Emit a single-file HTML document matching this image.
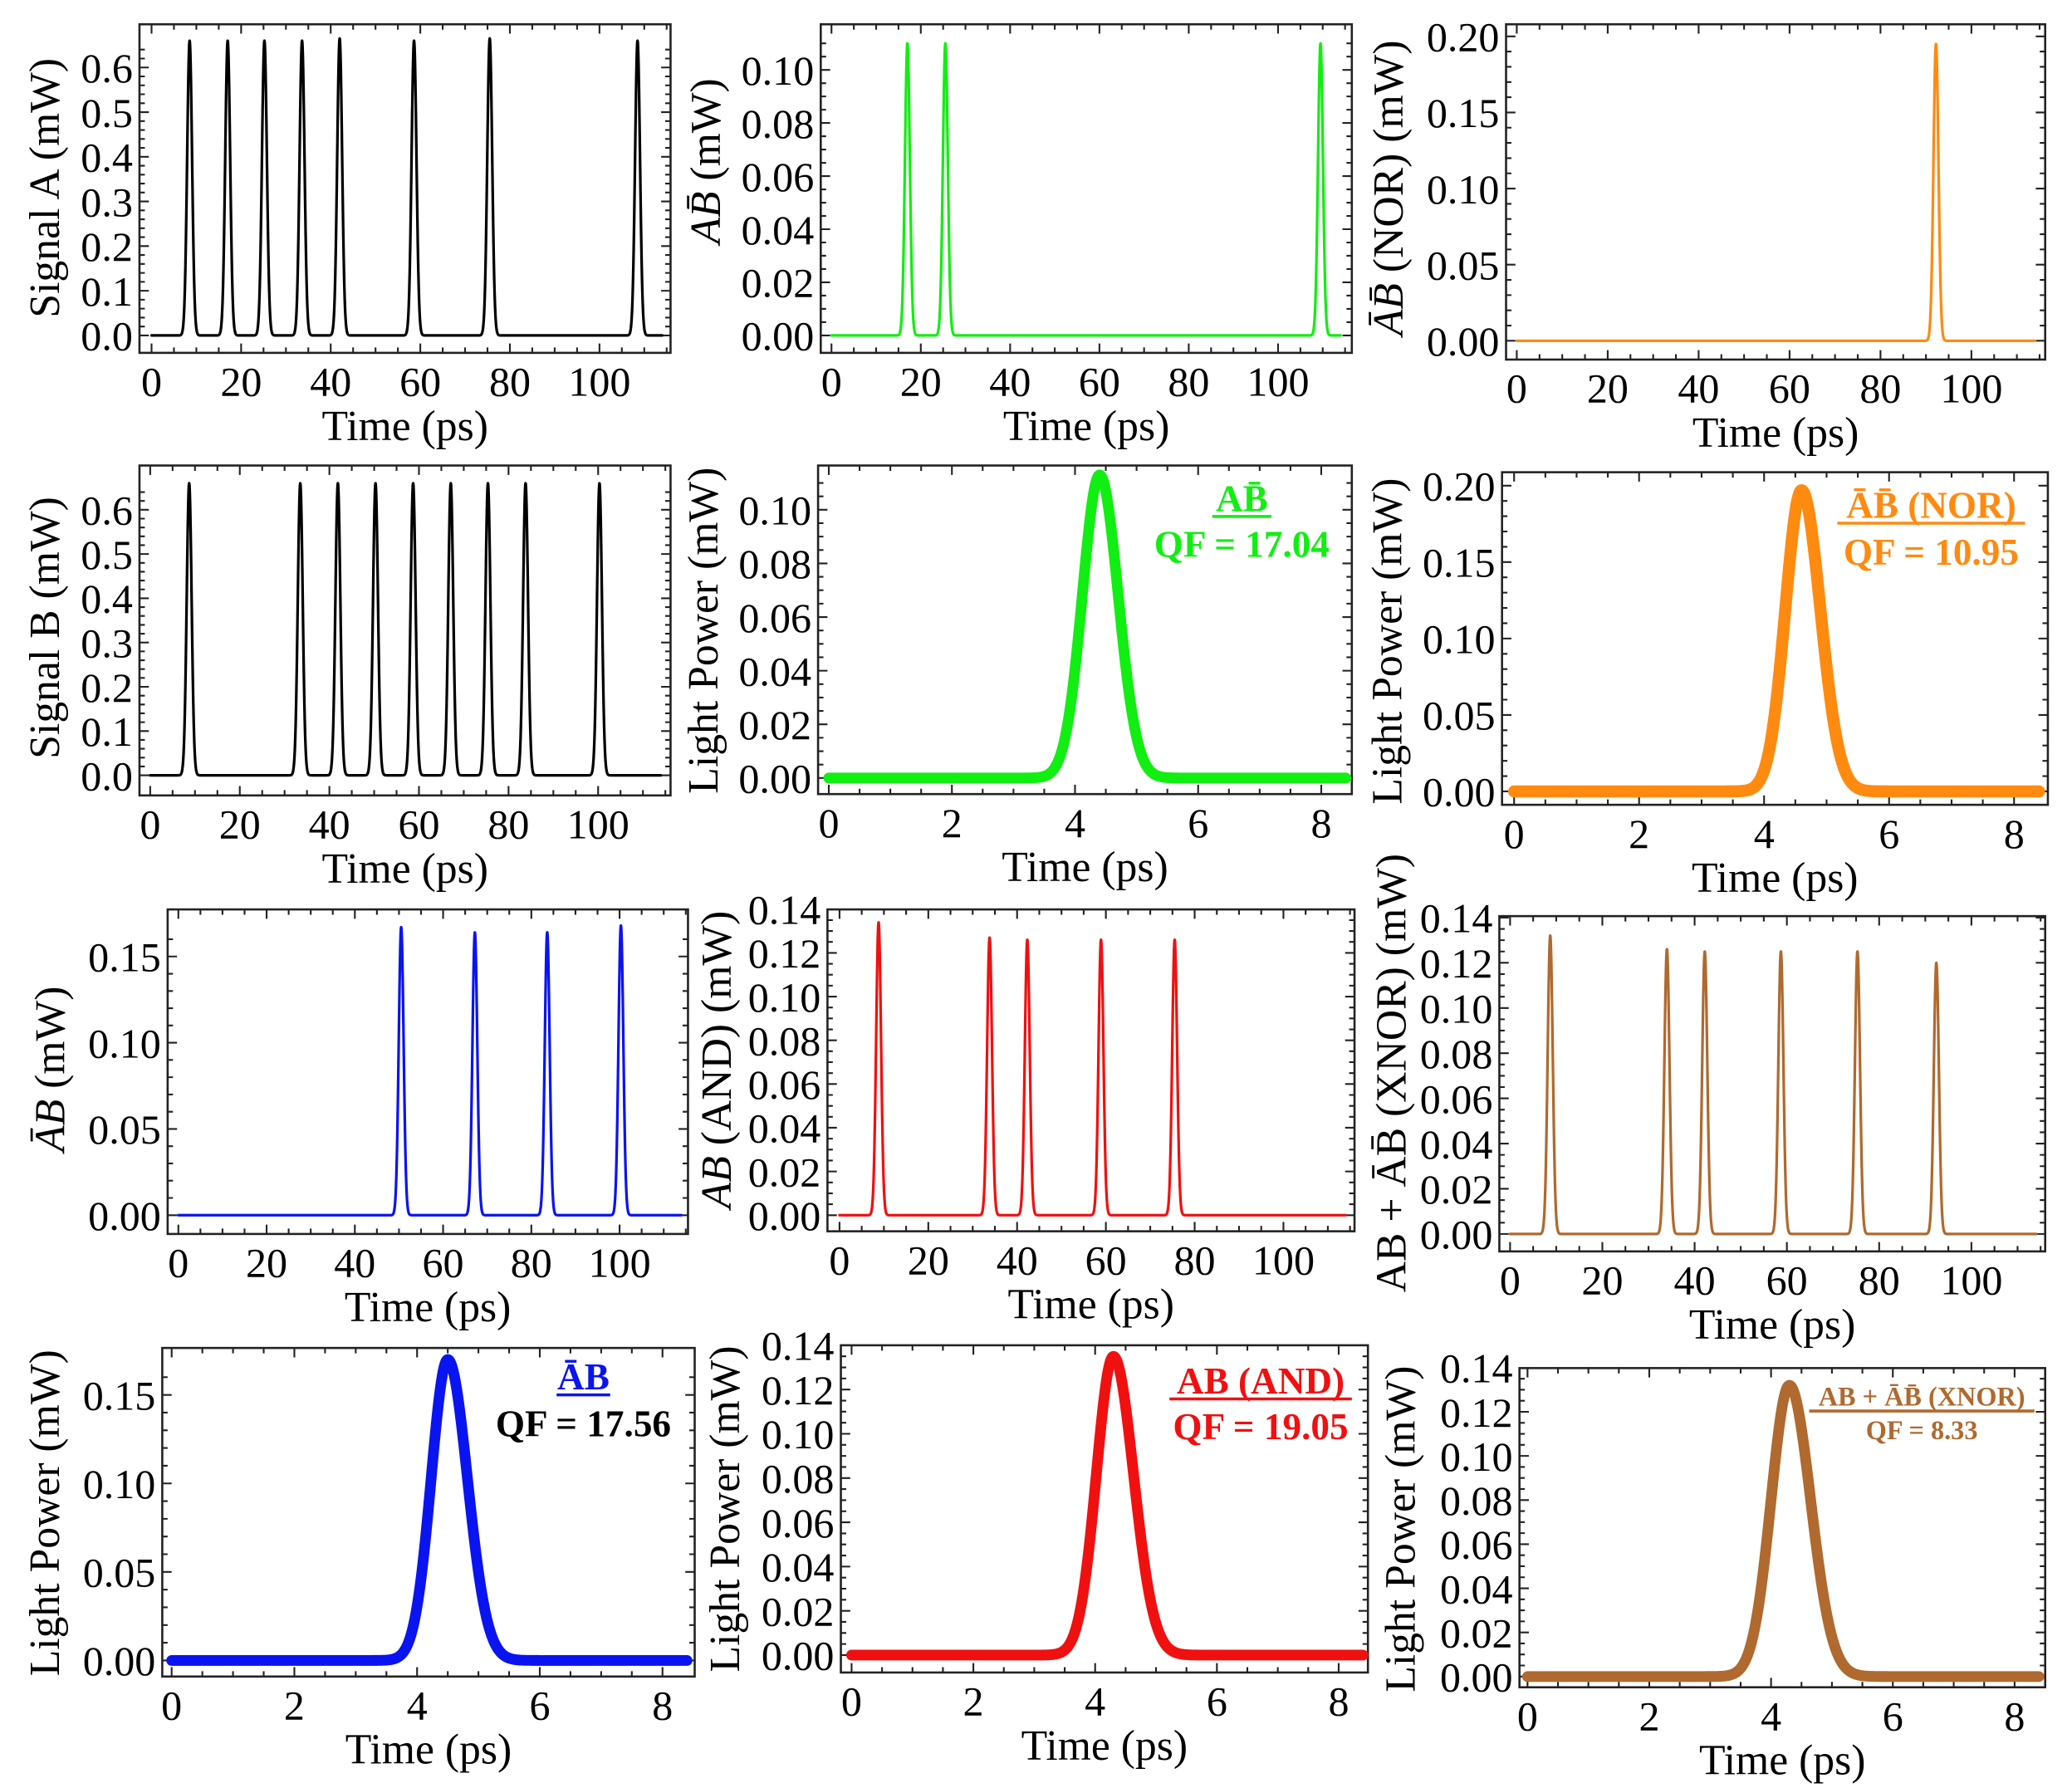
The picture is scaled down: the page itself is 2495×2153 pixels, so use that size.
<!DOCTYPE html>
<html><head><meta charset="utf-8"><style>
html,body{margin:0;padding:0;background:#fff;}
svg{display:block;}
text{font-family:"Liberation Serif",serif;}
</style></head><body>
<svg id="s" width="2495" height="2153" viewBox="0 0 1545 1333" xmlns="http://www.w3.org/2000/svg">
<rect width="1545" height="1333" fill="#fff"/>
</svg>
<script>
const S=document.getElementById('s');const NS='http://www.w3.org/2000/svg';
function el(n,a,t){const e=document.createElementNS(NS,n);for(const k in a)e.setAttribute(k,a[k]);if(t!==undefined)e.textContent=t;S.appendChild(e);return e;}
function panel(o){
 const X=t=>o.xa+t*o.xs, Y=v=>o.ya-v*o.ys;
 el('rect',{x:o.fx0,y:o.fy0,width:o.fx1-o.fx0,height:o.fy1-o.fy0,fill:'none',stroke:'#222','stroke-width':1.6});
 let d='';
 for(let t=0;t<=o.xmaxT+1e-9;t+=o.xminor){const x=X(t);if(x<o.fx0||x>o.fx1)continue;
  const maj=Math.abs(t/o.xmajor-Math.round(t/o.xmajor))<1e-6;const L=maj?7:4;
  d+=`M${x} ${o.fy1}v${-L}M${x} ${o.fy0}v${L}`;}
 for(let v=0;v<=o.ymaxT+1e-9;v+=o.yminor){const y=Y(v);if(y<o.fy0||y>o.fy1)continue;
  const maj=Math.abs(v/o.ymajor-Math.round(v/o.ymajor))<1e-6;const L=maj?7:4;
  d+=`M${o.fx0} ${y}h${L}M${o.fx1} ${y}h${-L}`;}
 el('path',{d:d,stroke:'#222','stroke-width':1.3,fill:'none'});
 for(let t=0;t<=o.xmaxT+1e-9;t+=o.xmajor){el('text',{x:X(t),y:o.fy1+32,'font-size':31,'text-anchor':'middle'},String(Math.round(t)));}
 for(let v=0;v<=o.ymaxT+1e-9;v+=o.ymajor){el('text',{x:o.fx0-5,y:Y(v)+11,'font-size':31,'text-anchor':'end'},v.toFixed(o.yd));}
 el('text',{x:(o.fx0+o.fx1)/2,y:o.fy1+65,'font-size':32,'text-anchor':'middle'},'Time (ps)');
 const yl=el('text',{x:0,y:0,'font-size':32,'text-anchor':'middle',transform:`translate(${o.ylx},${o.yly}) rotate(-90)`});
 yl.innerHTML=o.ylab;
 let p='';const N=o.n||1500;
 for(let i=0;i<=N;i++){const t=o.t0+(o.t1-o.t0)*i/N;let v=0;for(const [c,h] of o.pulses){const s=t<c?o.sl:o.sr;v+=h*Math.exp(-((t-c)*(t-c))/(2*s*s));}
  p+=(i?'L':'M')+X(t).toFixed(2)+' '+Y(v).toFixed(2);}
 el('path',{d:p,fill:'none',stroke:o.col,'stroke-width':o.lw,'stroke-linejoin':'round','stroke-linecap':'round'});
 if(o.lab){for(const l of o.lab){const e=el('text',{x:l[0],y:l[1],'font-size':l[2],'font-weight':'bold','text-anchor':'middle',fill:l[4]||o.col});e.innerHTML=l[3];
   if(l[5]){el('line',{x1:l[0]-l[5],x2:l[0]+l[5],y1:l[1]+4,y2:l[1]+4,stroke:l[4]||o.col,'stroke-width':2.2});}}}
}
const G='#11ee11',O='#ff8a10',B='#0a14f0',R='#f01010',BR='#b0692e',K='#000';
const ob=c=>`${c}\u0304`;
const pulseP={t0:0,t1:114,sl:0.55,sr:0.55,lw:2,xmajor:20,xminor:5,xmaxT:115,n:3000};
const qfP={t0:0,t1:8.4,lw:8,xmajor:2,xminor:0.5,xmaxT:8.4,n:600};
panel(Object.assign({},pulseP,{fx0:104,fx1:500,fy0:18,fy1:263,xa:113,xs:3.34,ya:250,ys:333,ymajor:0.1,yminor:0.02,ymaxT:0.65,yd:1,col:K,
 pulses:[[8.5,.66],[17,.66],[25.2,.66],[33.6,.66],[42,.665],[58.6,.66],[75.5,.665],[108.5,.66]],ylx:44,yly:140,ylab:'Signal A (mW)'}));
panel(Object.assign({},pulseP,{fx0:612,fx1:1008,fy0:18,fy1:263,xa:620,xs:3.33,ya:250,ys:1980,ymajor:0.02,yminor:0.005,ymaxT:0.11,yd:2,col:G,
 pulses:[[17,.11],[25.5,.11],[109.5,.11]],ylx:537,yly:120,ylab:'<tspan font-style="italic">A'+ob('B')+'</tspan> (mW)'}));
panel(Object.assign({},pulseP,{fx0:1123,fx1:1525,fy0:18,fy1:268,xa:1131,xs:3.39,ya:254,ys:1135,ymajor:0.05,yminor:0.01,ymaxT:0.2,yd:2,col:O,
 pulses:[[92.2,.195]],ylx:1046,yly:140,ylab:'<tspan font-style="italic">'+ob('A')+ob('B')+'</tspan> (NOR) (mW)'}));
panel(Object.assign({},pulseP,{fx0:104,fx1:500,fy0:347,fy1:593,xa:112,xs:3.34,ya:578,ys:330,ymajor:0.1,yminor:0.02,ymaxT:0.65,yd:1,col:K,
 pulses:[[8.7,.66],[33.5,.66],[41.9,.66],[50.3,.66],[58.7,.66],[67.1,.66],[75.4,.66],[83.8,.66],[100.3,.66]],ylx:44,yly:468,ylab:'Signal B (mW)'}));
panel(Object.assign({},qfP,{fx0:610,fx1:1008,fy0:347,fy1:592,xa:618,xs:45.9,ya:580,ys:2000,ymajor:0.02,yminor:0.005,ymaxT:0.11,yd:2,col:G,
 pulses:[[4.4,.113]],sl:0.28,sr:0.3,ylx:535,yly:470,ylab:'Light Power (mW)',
 lab:[[926,381,28,'A'+ob('B'),G,22],[926,415,28,'QF = 17.04',G]]}));
panel(Object.assign({},qfP,{fx0:1120,fx1:1527,fy0:352,fy1:600,xa:1129,xs:46.6,ya:590,ys:1140,ymajor:0.05,yminor:0.01,ymaxT:0.2,yd:2,col:O,lw:9,
 pulses:[[4.6,.197]],sl:0.26,sr:0.3,ylx:1045,yly:478,ylab:'Light Power (mW)',
 lab:[[1440,386,28,ob('A')+ob('B')+' (NOR)',O,70],[1440,421,28,'QF = 10.95',O]]}));
panel(Object.assign({},pulseP,{fx0:125,fx1:513,fy0:678,fy1:920,xa:133,xs:3.29,ya:906,ys:1286,ymajor:0.05,yminor:0.01,ymaxT:0.16,yd:2,col:B,
 pulses:[[50.5,.167],[67.2,.164],[83.6,.164],[100.3,.168]],ylx:48,yly:797,ylab:'<tspan font-style="italic">'+ob('A')+'B</tspan> (mW)'}));
panel(Object.assign({},pulseP,{fx0:617,fx1:1010,fy0:678,fy1:918,xa:626,xs:3.31,ya:906,ys:1630,ymajor:0.02,yminor:0.005,ymaxT:0.14,yd:2,col:R,
 pulses:[[8.8,.134],[33.8,.127],[42.3,.126],[58.9,.126],[75.5,.126]],ylx:545,yly:790,ylab:'<tspan font-style="italic">AB</tspan> (AND) (mW)'}));
panel(Object.assign({},pulseP,{fx0:1118,fx1:1525,fy0:683,fy1:933,xa:1126,xs:3.44,ya:920,ys:1685,ymajor:0.02,yminor:0.005,ymaxT:0.14,yd:2,col:BR,
 pulses:[[8.7,.132],[34,.126],[42.2,.125],[58.7,.125],[75.3,.125],[92.4,.12]],ylx:1048,yly:800,ylab:'AB + '+ob('A')+ob('B')+' (XNOR) (mW)'}));
panel(Object.assign({},qfP,{fx0:121,fx1:518,fy0:1005,fy1:1250,xa:128,xs:45.75,ya:1238,ys:1320,ymajor:0.05,yminor:0.01,ymaxT:0.16,yd:2,col:B,
 pulses:[[4.5,.17]],sl:0.27,sr:0.32,ylx:44,yly:1128,ylab:'Light Power (mW)',
 lab:[[435,1036,28,ob('A')+'B',B,20],[435,1071,28,'QF = 17.56',K]]}));
panel(Object.assign({},qfP,{fx0:627,fx1:1020,fy0:1003,fy1:1247,xa:635,xs:45.4,ya:1234,ys:1650,ymajor:0.02,yminor:0.005,ymaxT:0.14,yd:2,col:R,
 pulses:[[4.3,.135]],sl:0.28,sr:0.33,ylx:551,yly:1125,ylab:'Light Power (mW)',
 lab:[[940,1039,28,'AB (AND)',R,68],[940,1073,28,'QF = 19.05',R]]}));
panel(Object.assign({},qfP,{fx0:1133,fx1:1525,fy0:1020,fy1:1258,xa:1139,xs:45.4,ya:1250,ys:1645,ymajor:0.02,yminor:0.005,ymaxT:0.14,yd:2,col:BR,
 pulses:[[4.3,.132]],sl:0.3,sr:0.35,ylx:1055,yly:1140,ylab:'Light Power (mW)',
 lab:[[1433,1048,20,'AB + '+ob('A')+ob('B')+' (XNOR)',BR,84],[1433,1073,20,'QF = 8.33',BR]]}));
</script>
</body></html>
